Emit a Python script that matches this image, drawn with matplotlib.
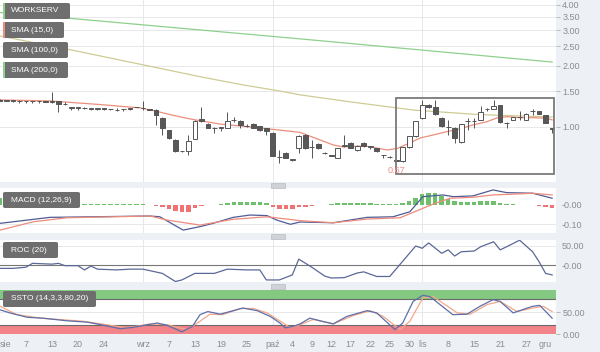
import matplotlib
matplotlib.use("Agg")
import matplotlib.pyplot as plt
from matplotlib.patches import FancyBboxPatch, Rectangle
from matplotlib.ticker import NullLocator

plt.rcParams["font.family"] = ["Liberation Sans", "DejaVu Sans"]

W, H = 600, 352
BG = "#edf0f4"
GRID = "#e6e8eb"
TXT = "#8c8c8c"

# ---- data: trading-day index 0 = 1 Aug ----
opens = [1.36, 1.35, 1.35, 1.34, 1.34, 1.34, 1.34, 1.34, 1.33, 1.34,
         1.30, 1.24, 1.245, 1.24, 1.22, 1.22, 1.235, 1.22, 1.21, 1.225,
         1.22, 1.255, 1.24, 1.22, 1.213, 1.11, 0.967, 0.863, 0.761, 0.761,
         0.873, 1.09, 1.035, 0.99, 0.99, 0.99, 1.08, 1.07, 1.01, 1.035,
         1.01, 0.989, 0.934, 0.71, 0.744, 0.687, 0.788, 0.913, 0.797, 0.824,
         0.743, 0.725, 0.703, 0.806, 0.834, 0.77, 0.834, 0.797, 0.788, 0.727,
         0.711, 0.69, 0.679, 0.797, 0.90, 1.11, 1.29, 1.255, 1.11, 1.0,
         0.99, 0.84, 1.07, 1.07, 1.083, 1.227, 1.227, 1.28, 1.047, 1.083,
         1.12, 1.083, 1.2, 1.199, 1.145, 0.985]
highs = [1.37, 1.36, 1.36, 1.36, 1.35, 1.35, 1.35, 1.35, 1.49, 1.35,
         1.33, 1.26, 1.25, 1.25, 1.245, 1.24, 1.24, 1.225, 1.235, 1.23,
         1.245, 1.26, 1.34, 1.23, 1.22, 1.12, 0.97, 0.87, 0.765, 0.913,
         1.08, 1.26, 1.04, 0.995, 1.0, 1.18, 1.12, 1.08, 1.03, 1.04,
         1.015, 0.99, 0.94, 0.77, 0.75, 0.69, 0.91, 0.92, 0.86, 0.83,
         0.75, 0.728, 0.79, 0.913, 0.84, 0.81, 0.84, 0.80, 0.79, 0.73,
         0.715, 0.695, 0.80, 0.905, 1.075, 1.36, 1.30, 1.36, 1.12, 1.083,
         1.0, 1.035, 1.108, 1.108, 1.27, 1.24, 1.36, 1.285, 1.06, 1.125,
         1.20, 1.17, 1.22, 1.2, 1.15, 0.99]
lows = [1.34, 1.34, 1.33, 1.32, 1.32, 1.32, 1.32, 1.33, 1.32, 1.19,
        1.29, 1.21, 1.21, 1.22, 1.21, 1.21, 1.21, 1.215, 1.205, 1.20,
        1.215, 1.25, 1.21, 1.21, 1.02, 0.91, 0.87, 0.755, 0.755, 0.727,
        0.87, 1.06, 0.985, 0.93, 0.96, 0.985, 1.06, 0.99, 1.0, 0.985,
        0.96, 0.913, 0.715, 0.664, 0.70, 0.68, 0.744, 0.78, 0.70, 0.78,
        0.735, 0.715, 0.70, 0.80, 0.785, 0.765, 0.80, 0.78, 0.755, 0.70,
        0.705, 0.67, 0.675, 0.79, 0.895, 1.10, 1.245, 1.15, 1.0, 0.913,
        0.834, 0.835, 0.967, 0.99, 1.08, 1.20, 1.22, 1.05, 0.99, 1.08,
        1.08, 1.08, 1.15, 1.155, 1.04, 0.934]
closes = [1.35, 1.35, 1.35, 1.34, 1.34, 1.34, 1.34, 1.33, 1.34, 1.30,
          1.30, 1.25, 1.245, 1.24, 1.24, 1.235, 1.22, 1.22, 1.21, 1.225,
          1.24, 1.255, 1.245, 1.215, 1.14, 0.99, 0.88, 0.761, 0.762, 0.853,
          1.065, 1.065, 0.99, 0.992, 0.995, 1.07, 1.083, 1.02, 1.01, 0.99,
          0.967, 0.956, 0.72, 0.712, 0.703, 0.687, 0.903, 0.79, 0.80, 0.788,
          0.745, 0.719, 0.788, 0.806, 0.788, 0.806, 0.806, 0.797, 0.761, 0.727,
          0.71, 0.679, 0.797, 0.90, 1.07, 1.284, 1.25, 1.16, 1.01, 1.0,
          0.88, 1.03, 1.07, 1.075, 1.186, 1.227, 1.27, 1.058, 1.045, 1.12,
          1.12, 1.16, 1.2, 1.159, 1.047, 0.975]

sma15_day = [0, 7.7, 15.4, 21.6, 23.9, 26.4, 28.5, 30.1, 34.1, 38.2, 42.8, 46.2,
             51.3, 52.8, 56.2, 59.6, 61.2, 63.1, 64.7, 66.7, 68.8, 70.8, 72.8,
             75.0, 76.5, 78.1, 80.1, 82.1, 84.2, 85.0]
sma15_val = [1.359, 1.344, 1.29, 1.241, 1.199, 1.146, 1.108, 1.083, 1.031, 1.003,
             0.967, 0.94, 0.815, 0.797, 0.806, 0.77, 0.784, 0.834, 0.882, 0.913,
             0.948, 0.978, 1.023, 1.062, 1.108, 1.124, 1.111, 1.111, 1.104, 1.083]
sma100_day = [0, 10.4, 30.8, 37.5, 42.8, 46.2, 53.9, 61.2, 63.8, 73.9, 85]
sma100_val = [2.81, 2.42, 1.77, 1.61, 1.51, 1.44, 1.33, 1.24, 1.21, 1.15, 1.12]
sma200_day = [0, 10.5, 30.8, 46.2, 61.6, 85]
sma200_val = [3.67, 3.44, 3.01, 2.72, 2.45, 2.09]

macd_day = [0, 7.7, 23.1, 24.6, 28.2, 30.8, 32.8, 35.9, 38.5, 41.1, 42.6, 44.7,
            46.2, 51.3, 56.5, 60.5, 63.1, 65.1, 68.2, 69.8, 72.8, 75.9, 78, 82, 85]
macd_val = [-0.095, -0.064, -0.057, -0.061, -0.130, -0.112, -0.095, -0.064, -0.052,
            -0.055, -0.078, -0.100, -0.088, -0.092, -0.064, -0.061, -0.035, 0.043,
            0.052, 0.043, 0.047, 0.078, 0.064, 0.061, 0.035]
signal_day = [0, 5.1, 10.3, 23.1, 25.7, 30.8, 35.9, 41.1, 46.2, 51.3, 56.5, 61.6,
              66.7, 69.3, 72.8, 75.9, 79.6, 82, 85]
signal_val = [-0.130, -0.087, -0.066, -0.057, -0.078, -0.104, -0.074, -0.061, -0.081,
              -0.092, -0.073, -0.066, 0.005, 0.035, 0.040, 0.052, 0.057, 0.061, 0.052]
macd_hist = [0.035, 0.032, 0.028, 0.025, 0.022, 0.019, 0.016, 0.014, 0.012, 0.010,
             0.008, 0.007, 0.006, 0.005, 0.004, 0.004, 0.004, 0.004, 0.004, 0.004,
             0.004, 0.004, 0.003, 0.002, -0.003, -0.012, -0.022, -0.032, -0.038, -0.035,
             -0.018, -0.005, 0.001, 0.002, 0.005, 0.010, 0.015, 0.016, 0.016, 0.015,
             0.013, 0.008, -0.010, -0.020, -0.022, -0.020, -0.012, -0.008, -0.003, -0.002,
             0.002, 0.004, 0.008, 0.010, 0.011, 0.010, 0.010, 0.009, 0.006, 0.004,
             0.003, 0.005, 0.010, 0.020, 0.035, 0.055, 0.062, 0.060, 0.045, 0.030,
             0.020, 0.018, 0.018, 0.018, 0.020, 0.020, 0.022, 0.012, 0.006, 0.003,
             0.002, 0.001, -0.002, -0.006, -0.010, -0.014]

roc_day = [0, 2, 4, 5, 8, 9, 10, 12, 13, 14, 15, 18, 20, 22, 25, 27, 28, 30, 33, 35,
           38, 40, 41, 43, 45, 46, 48, 50, 51, 53, 55, 56, 58, 60, 64, 65, 66, 68,
           69, 70, 71, 73, 74, 76, 77, 78, 80, 82, 83, 84, 85]
roc_val = [-8, -8, -5, 5, 3, 5, -1, -1, -12, -2, -10, -12, -10, -10, -21, -42, -38,
           -21, -21, -10, -12, -12, -38, -38, -25, 16, -5, -28, -33, -32, -20, -17,
           -29, -29, 50, 44, 58, 31, 40, 24, 35, 37, 48, 61, 40, 48, 65, 35, 9, -21, -25]

k_day = [0, 1.5, 4.2, 6.6, 10.3, 13.4, 15.9, 18.5, 20.5, 22.7, 24.2, 25.7, 28, 29.6,
         30.8, 32, 33.9, 35.9, 37.4, 39.6, 41.6, 43.1, 43.9, 45.1, 46.2, 47.7, 49.3,
         51.3, 53.4, 56.5, 58, 60.8, 62, 63.6, 65.1, 66.2, 69.7, 71.9, 73.9, 75.9,
         77, 79, 82, 83.1, 85]
k_val = [55, 48, 38, 36, 30, 27, 20, 12, 15, 21, 25, 20, 5, 17, 44, 51, 45, 53, 59,
         53, 40, 25, 14, 17, 23, 36, 30, 23, 40, 53, 48, 10, 25, 74, 88, 85, 44, 45,
         63, 78, 74, 48, 63, 65, 36]
d_day = [0, 2.6, 6.2, 12.8, 16.9, 19.6, 23.1, 25.7, 28.8, 30.8, 32.3, 34.3, 37, 39,
         41.1, 43.6, 44.7, 46.2, 48.2, 51.3, 54.4, 57, 59, 61.6, 63.1, 65.1, 66.7,
         70.4, 72.4, 75, 77, 79.6, 82, 83.6, 85]
d_val = [63, 44, 36, 29, 20, 14, 23, 21, 10, 29, 45, 44, 58, 58, 48, 25, 14, 21, 33,
         23, 42, 53, 40, 10, 29, 82, 85, 48, 45, 67, 74, 51, 59, 63, 51]

tick_days = [0, 4, 8, 12, 16, 22, 26, 30, 34, 38, 42, 45, 48, 51, 54, 57, 60, 63,
             65, 69, 73, 77, 81, 85]
tick_labels = ["sie", "7", "13", "20", "24", "wrz", "7", "13", "19", "25", "paź",
               "4", "9", "12", "17", "22", "25", "30", "lis", "8", "15", "21", "27", "gru"]
month_days = [22, 42, 65]
low_day, low_val = 61, 0.67


def rect(x0, y0, x1, y1):
    return [x0 / W, 1 - y1 / H, (x1 - x0) / W, (y1 - y0) / H]


fig = plt.figure(figsize=(6, 3.52), dpi=100, facecolor=BG)
ax = fig.add_axes(rect(0, 0, 556, 182))
ax_macd = fig.add_axes(rect(0, 188, 556, 233))
ax_roc = fig.add_axes(rect(0, 240, 556, 282))
ax_st = fig.add_axes(rect(0, 290, 556, 334))

for a in (ax, ax_macd, ax_roc, ax_st):
    a.set_facecolor("white")
    a.set_xlim(0.05, 85.6)
    for s in a.spines.values():
        s.set_visible(False)
    a.yaxis.tick_right()
    a.tick_params(axis="y", length=3, width=0.6, color="#b0b0b0", labelsize=6.5,
                  labelcolor=TXT, pad=1.5)
    a.tick_params(axis="x", length=0, labelbottom=False)
    a.set_xticks(tick_days)
    for d in month_days:
        a.axvline(d, color=GRID, lw=0.7, zorder=0)

# ---- price panel ----
ax.set_yscale("log")
ax.set_ylim(0.535, 4.23)
pticks = [1.0, 1.5, 2.0, 2.5, 3.0, 3.5, 4.0]
ax.set_yticks(pticks)
ax.set_yticklabels([f"{v:.2f}" for v in pticks])
ax.yaxis.set_minor_locator(NullLocator())
for v in pticks:
    ax.axhline(v, color=GRID, lw=0.7, zorder=0)

ax.plot(sma200_day, sma200_val, color="#8fd08c", lw=0.9, zorder=2)
ax.plot(sma100_day, sma100_val, color="#cfcb95", lw=0.9, zorder=2)
ax.plot(sma15_day, sma15_val, color="#eb8f7c", lw=0.9, zorder=2)

days = list(range(len(opens)))
ax.vlines(days, lows, highs, color="#555555", lw=0.7, zorder=3)
for d, o, c in zip(days, opens, closes):
    bear = c < o
    ax.bar(d, abs(c - o) if abs(c - o) > 0 else 0.004, bottom=min(o, c), width=0.72,
           color="#585858" if bear else "white", edgecolor="#555555", lw=0.7, zorder=4)

ax.add_patch(Rectangle((60.95, 0.586), 24.3, 1.39 - 0.586, fill=False,
                       edgecolor="#7a7a7a", lw=1.3, zorder=5))
ax.text(low_day, low_val * 0.96, f"{low_val:.2f}", color="#ee8a8a", fontsize=6.5,
        ha="center", va="top", zorder=6)

# ---- MACD ----
ax_macd.set_ylim(-0.145, 0.088)
ax_macd.set_yticks([-0.1, 0.0])
ax_macd.set_yticklabels(["-0.10", "-0.00"])
ax_macd.tick_params(axis="y", length=0, pad=4)
ax_macd.axhline(-0.1, color=GRID, lw=0.7, zorder=0)
hist_col = ["#6fc06c" if v >= 0 else "#f07272" for v in macd_hist]
ax_macd.bar(days, macd_hist, width=0.7, color=hist_col, zorder=2)
ax_macd.plot(macd_day, macd_val, color="#4f5c96", lw=0.9, zorder=3)
ax_macd.plot(signal_day, signal_val, color="#ee8c7c", lw=0.9, zorder=3)

# ---- ROC ----
ax_roc.set_ylim(-43.3, 65.5)
ax_roc.set_yticks([0, 50])
ax_roc.set_yticklabels(["-0.00", "50.00"])
ax_roc.tick_params(axis="y", length=0, pad=4)
ax_roc.axhline(50, color=GRID, lw=0.7, zorder=0)
ax_roc.axhline(0, color="#777777", lw=0.8, zorder=1)
ax_roc.plot(roc_day, roc_val, color="#5c6896", lw=0.9, zorder=3)

# ---- SSTO ----
ax_st.set_ylim(0, 100)
ax_st.set_yticks([0, 50])
ax_st.set_yticklabels(["0.00", "50.00"])
ax_st.axhline(50, color=GRID, lw=0.7, zorder=0)
ax_st.axhspan(80, 100, color="#84c981", zorder=1, lw=0)
ax_st.axhspan(0, 20, color="#f28389", zorder=1, lw=0)
ax_st.axhline(80, color="#6a6a6a", lw=0.8, zorder=2)
ax_st.axhline(20, color="#6a6a6a", lw=0.8, zorder=2)
ax_st.plot(d_day, d_val, color="#f3a889", lw=0.9, zorder=3)
ax_st.plot(k_day, k_val, color="#5e6ea8", lw=0.9, zorder=4)
ax_st.tick_params(axis="x", labelbottom=True, labelsize=6.5, labelcolor=TXT, pad=4)
ax_st.set_xticklabels(tick_labels)
xt = ax_st.get_xticklabels()
xt[0].set_ha("left")
xt[-1].set_ha("right")

# ---- label boxes ----
def label_box(x, y, w, h, text, stripe=None):
    fig.add_artist(FancyBboxPatch((x / W, 1 - (y + h) / H), w / W, h / H,
                                  boxstyle="round,pad=0,rounding_size=0.004",
                                  transform=fig.transFigure, fc="#6e6e6e", ec="none",
                                  zorder=10))
    if stripe:
        fig.add_artist(Rectangle((x / W, 1 - (y + h) / H), 2 / W, h / H,
                                 transform=fig.transFigure, fc=stripe, ec="none",
                                 zorder=11))
    fig.text((x + 8) / W, 1 - (y + h / 2) / H, text, color="white", fontsize=6,
             ha="left", va="center", zorder=12)


label_box(3, 3, 67, 16, "WORKSERV", "#8fd08c")
label_box(3, 22, 61, 16, "SMA (15,0)", "#eb8f7c")
label_box(3, 42, 65, 16, "SMA (100,0)")
label_box(3, 62, 65, 16, "SMA (200,0)", "#8fd08c")
label_box(3, 192, 77, 16, "MACD (12,26,9)")
label_box(3, 242, 55, 16, "ROC (20)")
label_box(3, 291, 93, 16, "SSTO (14,3,3,80,20)")

# drag handles between panels
for yc in (185, 236, 286.5):
    fig.add_artist(Rectangle((271 / W, 1 - (yc + 2.5) / H), 14 / W, 5 / H,
                             transform=fig.transFigure, fc="#cfd2d6", ec="#b8bbc0",
                             lw=0.5, zorder=10))

fig.savefig("out.png", dpi=100, facecolor=BG)
